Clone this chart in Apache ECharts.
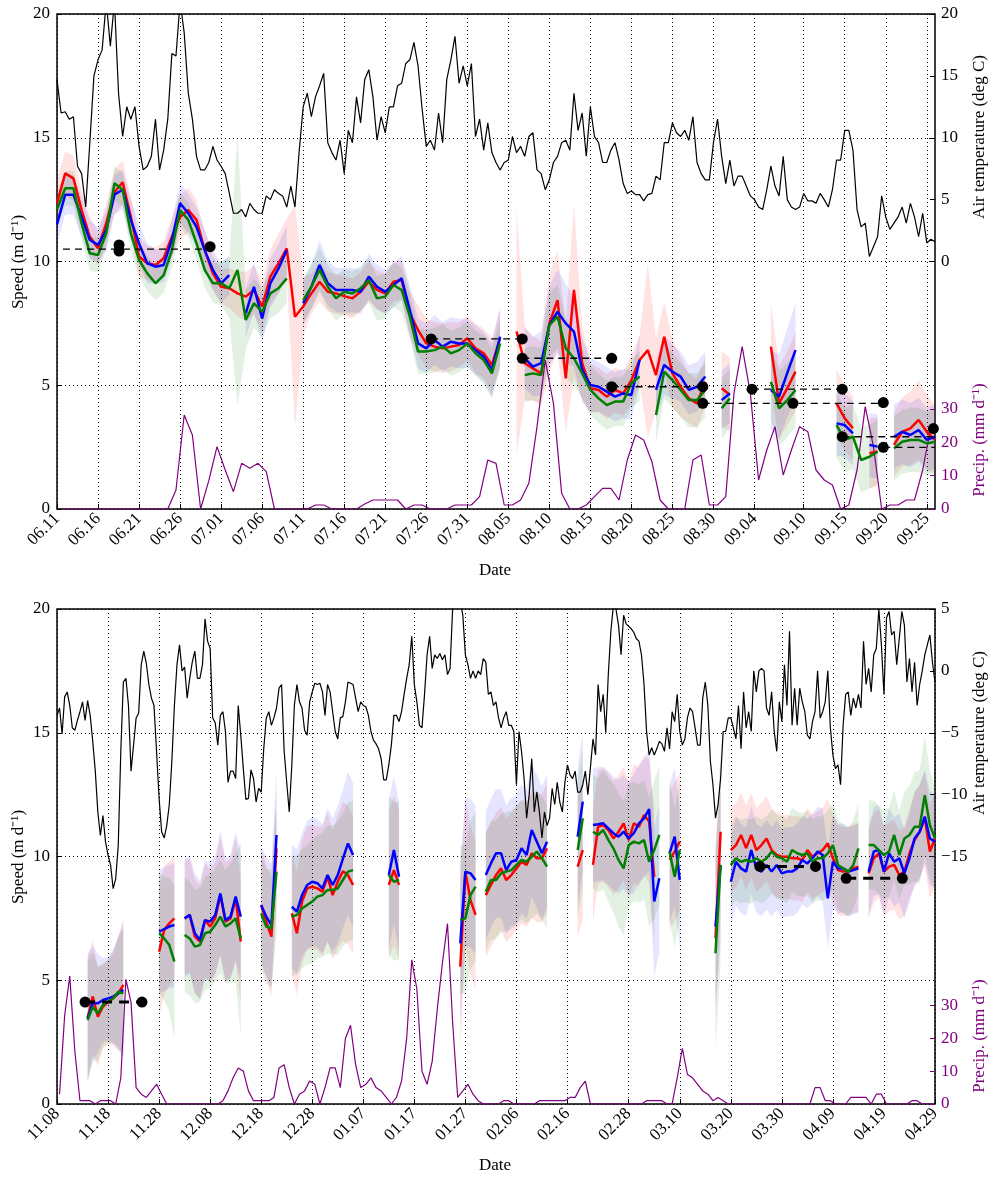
<!DOCTYPE html>
<html>
<head>
<meta charset="utf-8">
<title>Speed, air temperature and precipitation</title>
<script src="https://cdn.jsdelivr.net/npm/echarts@6/dist/echarts.min.js"></script>
<style>
  html, body { margin: 0; padding: 0; background: #fff; }
  #chart { width: 989px; height: 1179px; }
</style>
</head>
<body>
<div id="chart"></div>
<script>
const _ = null;

// ---------- summer panel: x = days since 06.11 ----------
const tickDaysTop = [0,5,10,15,20,25,30,35,40,45,50,55,60,65,70,75,80,85,91,96,101,106];
const tickLabelsTop = ['06.11','06.16','06.21','06.26','07.01','07.06','07.11','07.16','07.21','07.26','07.31',
  '08.05','08.10','08.15','08.20','08.25','08.30','09.04','09.10','09.15','09.20','09.25'];

// daily speeds (m/d), index = day
const redTop = [12.35,13.56,13.36,12.08,11.0,10.53,11.54,12.8,13.2,11.8,
  10.2,9.93,9.86,10.13,11.0,11.8,12.08,11.68,10.46,9.52,
  8.98,8.92,8.71,8.58,8.85,8.18,9.39,9.93,10.53,7.77,
  8.18,8.71,9.18,8.78,8.71,8.6,8.51,8.78,9.18,8.85,
  8.71,9.18,9.25,7.9,7.23,6.69,6.56,6.49,6.56,6.63,
  6.9,6.49,6.29,5.82,6.9,_,7.17,5.89,5.68,5.48,
  7.5,8.44,5.28,8.85,5.89,4.88,4.81,4.54,4.81,4.67,
  5.21,6.02,6.42,5.41,6.96,5.48,4.94,4.47,4.27,5.14,
  _,4.88,4.61,_,_,_,_,6.56,4.27,4.88,
  5.55,_,_,_,_,4.27,3.66,3.26,_,2.25,
  2.32,_,2.59,3.12,3.26,3.6,3.12,2.79];
const blueTop = [11.5,12.7,12.7,11.8,10.87,10.67,11.27,12.7,12.9,11.68,
  10.73,9.93,9.79,9.86,10.87,12.35,11.95,11.4,10.46,9.66,
  9.12,9.45,_,7.9,8.98,7.7,9.12,9.72,10.46,_,
  8.31,8.98,9.86,9.12,8.85,8.85,8.85,8.78,9.39,8.98,
  8.78,9.05,9.32,8.04,6.69,6.49,6.83,6.56,6.76,6.69,
  6.69,6.42,6.15,5.62,6.96,_,_,6.09,5.75,5.89,
  7.43,7.97,7.5,7.17,5.62,5.01,4.94,4.74,4.54,4.67,
  4.61,6.02,_,4.81,5.82,5.55,5.35,4.81,4.94,5.35,
  _,4.4,4.67,_,_,_,_,4.81,4.54,5.5,
  6.42,_,_,_,_,3.46,3.39,3.06,_,2.59,
  2.52,_,2.92,3.12,2.99,3.19,2.79,2.92];
const greenTop = [12.1,12.96,12.96,11.54,10.33,10.26,11.14,13.16,12.9,11.14,
  10.06,9.52,9.12,9.45,10.46,12.08,11.68,10.73,9.66,9.12,
  9.12,8.92,9.66,7.64,8.31,7.97,8.71,8.92,9.32,_,
  8.44,8.98,9.66,8.98,8.51,8.78,8.71,8.92,9.25,8.51,
  8.58,9.05,8.85,7.77,6.36,6.36,6.42,6.56,6.29,6.42,
  6.69,6.29,6.02,5.48,6.69,_,_,5.41,5.48,5.41,
  7.43,7.77,6.49,6.09,5.48,4.81,4.47,4.2,4.34,4.34,
  5.08,5.35,_,3.8,5.55,5.21,4.81,4.4,4.4,4.81,
  _,4.07,4.47,_,_,_,_,5.14,4.07,4.4,
  4.81,_,_,_,_,3.39,2.79,2.92,1.98,2.11,
  2.32,_,2.45,2.72,2.79,2.79,2.65,2.72];

// half-width of the shaded uncertainty bands
const hwRedTop = [0.9,0.9,0.9,0.8,0.8,0.7,0.8,0.9,0.9,0.8,
  0.8,0.7,0.7,0.7,0.8,0.9,0.9,0.8,0.8,0.7,
  0.7,0.8,0.9,1.0,1.0,1.0,1.1,1.2,1.2,4.5,
  1.2,0.8,0.8,0.8,0.8,0.8,0.8,0.8,0.8,0.8,
  0.8,0.8,0.8,0.9,1.0,1.0,1.0,1.0,1.0,0.9,
  0.9,1.0,1.0,1.1,1.2,_,5.0,1.5,1.3,1.3,
  2.0,2.0,2.2,3.5,1.5,1.0,0.9,0.9,0.9,0.9,
  1.0,1.0,3.5,1.5,1.4,1.4,1.2,1.0,1.0,1.0,
  _,1.5,1.5,_,_,_,_,1.8,1.5,1.5,
  1.6,_,_,_,_,1.4,1.3,1.3,_,1.4,
  1.4,_,1.3,1.4,1.5,1.6,1.5,1.4];
const hwBlueTop = [0.8,0.8,0.8,0.8,0.8,0.7,0.8,0.8,0.8,0.8,
  0.8,0.8,0.7,0.7,0.8,0.8,0.8,0.8,0.8,0.8,
  0.8,0.8,_,1.0,1.0,1.0,1.0,1.0,1.0,_,
  0.9,0.9,1.0,0.9,0.9,0.9,0.9,0.9,0.9,0.9,
  0.9,0.9,0.9,1.0,1.0,1.0,1.0,1.0,1.0,1.0,
  1.0,1.0,1.0,1.1,1.2,_,_,1.2,1.2,1.3,
  1.6,1.7,1.6,1.4,1.3,1.1,1.0,1.0,1.0,1.0,
  1.0,1.0,_,1.2,1.2,1.1,1.0,1.0,1.0,1.0,
  _,1.2,1.2,_,_,_,_,1.6,1.7,1.8,
  1.9,_,_,_,_,1.3,1.3,1.3,_,1.3,
  1.3,_,1.3,1.3,1.3,1.3,1.3,1.3];
const hwGreenTop = [0.7,0.7,0.7,0.7,0.7,0.7,0.7,0.7,0.7,0.7,
  0.7,0.7,0.7,0.7,0.7,0.7,0.7,0.7,0.7,0.8,
  0.9,1.2,5.5,1.2,1.0,1.0,1.0,1.0,1.0,_,
  0.9,0.9,0.9,0.9,0.9,0.9,0.9,0.9,0.9,0.9,
  0.9,0.9,0.9,0.9,0.9,0.9,0.9,0.9,0.9,0.9,
  0.9,0.9,1.0,1.0,1.0,_,_,1.1,1.1,1.1,
  1.3,1.3,1.2,1.1,1.0,1.0,1.0,1.0,1.0,1.0,
  1.0,1.0,_,1.1,1.1,1.1,1.1,1.1,1.1,1.1,
  _,1.2,1.2,_,_,_,_,1.5,1.5,1.5,
  1.5,_,_,_,_,1.3,1.3,1.3,1.3,1.3,
  1.3,_,1.3,1.3,1.3,1.3,1.3,1.3];

// air temperature (deg C), every half day from day 0
const tempTop = [14.7,12.0,12.1,11.5,11.7,7.7,7.1,4.4,9.6,15.0,
  16.3,17.1,21,17.4,21,13.6,10.1,12.5,11.5,12.5,
  9.3,7.4,7.7,8.5,11.5,7.4,9.0,11.5,16.8,16.6,
  21,18.5,13.6,11.5,8.5,7.4,7.4,8.0,9.3,8.2,
  7.7,7.1,5.5,3.9,3.9,4.2,3.6,4.7,4.2,3.9,
  3.9,5.3,5.0,5.8,5.5,5.3,4.4,6.1,4.4,8.8,
  12.5,13.6,11.7,13.3,14.2,15.2,9.6,8.8,8.2,9.8,
  7.1,10.6,9.6,13.3,11.2,14.7,15.5,13.3,9.8,11.7,
  10.4,12.5,12.5,14.2,14.4,16.0,16.3,17.7,15.8,12.3,
  9.3,9.8,9.0,12.0,9.6,14.7,16.3,18.2,14.4,15.8,
  14.2,16.0,10.1,11.5,9.0,11.2,8.8,8.0,7.4,8.0,
  8.2,10.1,8.8,9.3,8.5,10.1,10.4,7.4,7.1,5.8,
  6.6,8.0,8.5,9.6,9.8,9.0,13.6,10.6,12.0,8.5,
  12.5,10.1,9.6,8.0,8.0,9.0,9.6,8.2,6.3,5.5,
  5.7,5.4,5.4,4.9,5.4,5.5,6.9,6.6,9.6,9.6,
  11.2,10.4,10.1,10.6,9.8,11.7,8.0,7.1,6.6,6.6,
  9.6,11.5,8.5,6.3,8.2,6.1,6.9,6.9,6.1,5.3,
  5.0,4.4,4.2,5.8,7.7,6.1,5.3,8.5,5.0,4.4,
  4.2,4.4,5.5,4.9,4.9,4.7,5.5,5.0,4.4,5.8,
  8.2,8.2,10.6,10.6,9.0,4.2,2.8,3.1,0.4,1.2,
  2.0,5.3,3.6,2.6,3.1,3.6,4.4,3.1,4.7,3.6,
  2.0,3.9,1.5,1.8,1.6];

// daily precipitation (mm/d), plotted at mid-day
const precipTop = [0,0,0,0,0,0,0,0,0,0,
  0,0,0,0,5.7,28.2,22.2,0,8.5,18.7,
  11.7,5.2,13.7,12.2,13.7,11.2,0,0,0,0,
  0,1.2,1.2,0,0,0,0,1.5,2.7,2.7,
  2.7,2.7,0,1.2,1.2,0,0,0,1.2,1.2,
  1.2,3.7,14.7,13.7,1.2,1.2,2.7,7.7,24.7,44.7,
  31.7,4.7,0,0,1.2,3.7,6.2,6.2,2.7,14.7,
  22.2,20.7,14.2,2.7,0,0,0,14.7,16.2,1.2,
  1.2,3.7,34.7,48.7,34.7,8.7,17.7,24.7,10.2,17.7,
  24.7,23.2,11.7,8.7,7.2,0,1.2,11.7,30.7,18.7,
  0,1.2,1.2,2.7,2.7,11.7,24.7];

// survey means: [start day, end day, speed] and dot positions [day, speed]
const dashesTop = [[0.73,18.66,10.5],[45.6,56.7,6.87],[56.7,67.6,6.09],[67.6,78.7,4.94],
  [78.7,100.7,4.27],[84.7,95.7,4.84],[95.7,107,2.92],[100.7,107,2.49]];
const dotsTop = [[7.56,10.67],[7.56,10.42],[18.66,10.6],[45.6,6.87],[56.7,6.87],[56.7,6.09],
  [67.6,6.09],[67.6,4.94],[78.7,4.94],[78.7,4.27],[84.7,4.84],[89.7,4.27],[95.7,4.84],
  [95.7,2.92],[100.7,4.3],[100.7,2.49],[106.8,3.25]];

// ---------- winter panel: x = days since 11.08 ----------
const tickDaysBot = [0,10,20,30,40,50,60,70,80,90,100,112,122,132,142,152,162,172];
const tickLabelsBot = ['11.08','11.18','11.28','12.08','12.18','12.28','01.07','01.17','01.27',
  '02.06','02.16','02.28','03.10','03.20','03.30','04.09','04.19','04.29'];

const redBot = [_,_,_,_,_,_,3.46,4.34,3.53,3.93,
  4.13,4.27,4.47,4.81,_,_,_,_,_,_,
  6.15,7.03,7.3,7.5,_,7.5,7.64,6.76,6.56,7.43,
  7.17,7.5,8.44,7.37,7.5,8.31,6.56,_,_,_,
  8.04,7.37,6.76,10.33,_,_,7.7,6.9,8.18,8.71,
  8.78,8.71,8.58,9.18,8.44,8.98,9.4,9.25,8.85,_,
  _,_,_,_,_,8.85,9.45,8.85,_,_,
  _,_,_,_,_,_,_,_,_,5.55,
  9.39,8.24,7.64,_,8.44,8.85,9.25,9.52,9.05,9.25,
  9.52,9.79,9.66,10.13,9.93,9.93,10.33,_,_,_,
  _,_,9.59,10.26,_,9.66,11.2,11.27,11.07,10.73,
  11.0,11.34,10.66,11.34,11.2,11.68,11.41,9.18,_,_,
  9.86,10.2,10.6,_,_,_,_,_,_,6.69,
  11.0,_,10.26,10.46,10.87,10.34,10.87,10.26,10.46,10.73,
  10.26,10.06,9.99,9.99,9.93,9.93,9.86,10.26,9.99,10.13,
  10.26,10.53,9.93,9.45,9.39,9.39,9.52,9.59,_,9.32,
  9.93,10.13,9.39,9.59,9.66,9.25,9.39,10.13,10.67,11.0,
  11.54,10.2,10.73];
const blueBot = [_,_,_,_,_,_,3.46,4.07,4.07,4.2,
  4.27,4.34,4.47,4.61,_,_,_,_,_,_,
  6.96,7.07,7.17,7.23,_,7.5,7.64,6.9,6.63,7.43,
  7.37,7.64,8.51,7.43,7.57,8.38,7.57,_,_,_,
  8.04,7.57,7.23,10.87,_,_,7.97,7.77,8.44,8.85,
  8.98,8.92,8.71,9.25,8.85,9.25,9.9,10.53,10.06,_,
  _,_,_,_,_,9.25,10.26,9.18,_,_,
  _,_,_,_,_,_,_,_,_,6.49,
  9.39,9.32,9.05,_,9.25,9.72,10.13,10.13,9.45,9.79,
  9.86,10.33,10.06,11.07,10.6,10.13,10.6,_,_,_,
  _,_,10.8,12.22,_,11.27,11.3,11.34,11.14,10.94,
  10.8,11.0,10.73,10.94,11.34,11.54,11.92,8.18,9.12,_,
  10.13,10.8,9.05,_,_,_,_,_,_,7.17,
  9.66,_,8.98,9.79,9.52,9.39,10.26,9.52,9.39,9.66,
  9.39,9.66,9.32,9.39,9.39,9.52,9.86,9.72,9.93,10.2,
  10.06,8.31,9.79,9.52,9.52,9.39,9.45,9.52,_,9.39,
  10.2,10.26,9.39,10.13,9.79,9.93,9.32,9.93,10.73,11.0,
  11.61,10.73,10.6];
const greenBot = [_,_,_,_,_,_,3.39,3.93,3.66,4.0,
  4.13,4.27,4.54,4.47,_,_,_,_,_,_,
  6.9,6.69,6.42,5.75,_,6.83,6.69,6.36,6.42,6.9,
  6.96,7.23,7.57,7.17,7.3,7.5,6.69,_,_,_,
  7.7,7.17,7.1,9.39,_,_,7.57,7.64,7.9,8.04,
  8.18,8.38,8.44,8.65,8.65,8.71,9.05,9.39,9.45,_,
  _,_,_,_,_,9.25,8.98,9.05,_,_,
  _,_,_,_,_,_,_,_,_,7.43,
  7.5,8.44,8.78,_,8.58,9.05,9.05,9.32,9.39,9.45,
  9.66,9.86,9.79,9.99,10.2,9.93,9.59,_,_,_,
  _,_,10.26,11.54,_,11.0,10.87,11.07,10.67,10.33,
  9.86,9.52,10.46,10.6,10.53,10.67,9.79,10.26,10.87,_,
  10.2,9.18,10.26,_,_,_,_,_,_,6.09,
  9.66,_,9.66,9.93,9.79,9.86,9.79,9.93,9.79,9.93,
  10.2,9.99,9.93,9.79,10.26,10.13,10.06,10.13,9.79,9.93,
  9.93,10.13,10.46,9.66,9.52,9.39,9.66,10.33,_,10.46,
  10.46,10.26,10.06,10.2,10.87,10.06,10.73,10.87,11.2,11.2,
  12.48,11.27,10.73];

const hwRedBot = [_,_,_,_,_,_,2.5,2.3,2.0,1.7,
  1.7,1.9,2.3,2.7,_,_,_,_,_,_,
  2.6,2.6,2.5,2.5,_,2.3,2.3,2.3,2.3,2.3,
  2.3,2.3,2.4,2.4,2.4,2.5,2.5,_,_,_,
  2.3,2.3,2.4,2.5,_,_,2.5,2.5,2.5,2.5,
  2.5,2.5,2.6,2.6,2.6,2.7,2.8,2.8,2.8,_,
  _,_,_,_,_,3.0,3.0,3.0,_,_,
  _,_,_,_,_,_,_,_,_,3.5,
  3.0,3.0,3.0,_,2.5,2.5,2.5,2.5,2.5,2.5,
  2.5,2.5,2.5,2.6,2.6,2.6,2.6,_,_,_,
  _,_,2.8,2.8,_,2.3,2.3,2.3,2.3,2.3,
  2.3,2.3,2.3,2.4,2.4,2.4,2.5,2.8,_,_,
  2.8,2.8,2.8,_,_,_,_,_,_,3.3,
  3.3,_,1.7,1.7,1.7,1.7,1.7,1.7,1.7,1.7,
  1.7,1.7,1.7,1.7,1.7,1.7,1.7,1.7,1.7,1.7,
  1.7,1.8,1.8,1.8,1.8,1.8,1.8,1.8,_,1.8,
  1.8,1.8,1.8,1.8,1.8,1.8,1.8,1.8,1.9,1.9,
  1.9,1.9,1.9];
const hwBlueBot = [_,_,_,_,_,_,2.6,2.3,2.0,1.7,
  1.7,1.9,2.3,2.7,_,_,_,_,_,_,
  2.5,2.5,2.5,2.5,_,2.4,2.4,2.4,2.4,2.4,
  2.4,2.4,2.5,2.5,2.5,2.6,2.6,_,_,_,
  2.4,2.4,2.5,2.6,_,_,2.5,2.5,2.5,2.6,
  2.6,2.6,2.6,2.7,2.7,2.8,2.8,2.9,2.9,_,
  _,_,_,_,_,3.0,3.0,3.0,_,_,
  _,_,_,_,_,_,_,_,_,3.2,
  3.0,3.0,3.0,_,2.6,2.6,2.6,2.6,2.6,2.6,
  2.6,2.6,2.6,2.7,2.7,2.7,2.7,_,_,_,
  _,_,2.8,2.8,_,2.3,2.3,2.3,2.3,2.3,
  2.3,2.3,2.3,2.4,2.4,2.4,2.5,3.0,3.0,_,
  2.8,2.8,2.8,_,_,_,_,_,_,3.2,
  3.2,_,1.8,1.8,1.8,1.8,1.8,1.8,1.8,1.8,
  1.8,1.8,1.8,1.8,1.8,1.8,1.8,1.8,1.8,1.8,
  1.9,2.0,1.9,1.8,1.8,1.8,1.8,1.8,_,1.8,
  1.8,1.8,1.8,1.8,1.8,1.8,1.8,1.8,1.9,1.9,
  1.9,1.9,1.9];
const hwGreenBot = [_,_,_,_,_,_,2.4,2.2,1.9,1.7,
  1.7,1.8,2.2,2.6,_,_,_,_,_,_,
  2.4,2.5,2.7,3.1,_,2.3,2.3,2.3,2.3,2.3,
  2.3,2.3,2.3,2.3,2.4,2.6,3.9,_,_,_,
  2.3,2.3,2.4,2.5,_,_,2.4,2.4,2.4,2.4,
  2.5,2.5,2.5,2.6,2.6,2.7,2.7,2.8,2.8,_,
  _,_,_,_,_,3.2,3.2,3.2,_,_,
  _,_,_,_,_,_,_,_,_,3.0,
  3.0,3.0,3.0,_,2.4,2.4,2.4,2.4,2.4,2.4,
  2.4,2.4,2.5,2.5,2.5,2.5,2.5,_,_,_,
  _,_,2.8,2.8,_,2.3,2.3,2.4,2.5,2.6,
  2.7,2.7,2.5,2.4,2.4,2.4,2.6,2.8,2.8,_,
  2.8,2.8,2.8,_,_,_,_,_,_,4.0,
  4.0,_,1.7,1.7,1.7,1.7,1.7,1.7,1.7,1.7,
  1.7,1.7,1.7,1.7,1.7,1.7,1.7,1.7,1.7,1.7,
  1.7,1.7,1.8,1.8,1.8,1.8,1.8,1.8,_,1.8,
  1.8,1.8,1.8,1.8,1.8,1.8,1.9,2.0,2.2,2.3,
  2.4,2.2,2.0];

const tempBot = [-3.6,-3.0,-5.1,-2.1,-1.7,-2.8,-4.6,-4.8,-4.0,-3.3,
  -2.5,-4.0,-2.4,-3.6,-5.7,-8.1,-11.4,-13.3,-11.7,-13.8,
  -14.9,-15.7,-17.6,-16.8,-14.1,-6.5,-0.9,-0.6,-2.8,-8.1,
  -6.0,-3.8,-3.4,0.5,1.6,0.6,-1.1,-2.2,-2.8,-6.5,
  -10.3,-13.0,-13.5,-12.5,-10.8,-7.3,-2.8,0.5,2.1,0.0,
  0.3,-2.2,-0.6,0.7,1.6,-0.6,-0.6,0.5,4.2,2.4,
  1.8,-3.8,-4.2,-6.0,-3.6,-3.3,-4.9,-9.0,-8.1,-8.1,
  -8.7,-2.8,-5.2,-7.9,-10.4,-10.3,-8.0,-8.7,-10.6,-9.5,
  -9.8,-6.3,-3.8,-3.3,-4.4,-3.8,-3.0,-1.4,-1.1,-6.5,
  -9.0,-11.4,-7.6,-2.8,-1.1,-2.5,-3.0,-4.8,-5.2,-2.5,
  -1.7,-1.0,-1.1,-1.0,-1.7,-3.6,-1.1,-1.7,-3.3,-4.9,
  -5.5,-3.8,-3.7,-2.5,-0.9,-1.0,-1.1,-2.2,-3.3,-2.5,
  -2.8,-2.9,-3.6,-4.9,-5.6,-5.9,-6.3,-7.1,-8.8,-8.8,
  -7.6,-6.0,-3.6,-3.6,-4.1,-3.3,-1.9,-0.6,0.5,2.8,
  -1.1,-2.5,-4.4,-4.6,-1.9,1.3,2.8,0.2,1.3,1.0,
  1.4,0.9,1.3,-0.3,0.2,5.0,5.6,5.6,5.6,4.5,
  1.3,0.5,-0.6,0.0,-0.6,0.0,-0.3,1.0,0.7,-1.9,
  -1.7,-2.8,-2.5,-3.8,-4.6,-3.8,-3.3,-4.4,-4.4,-4.9,
  -9.2,-4.9,-6.5,-8.7,-11.9,-10.0,-7.1,-11.4,-9.8,-11.4,
  -13.5,-11.4,-12.5,-11.9,-9.5,-10.8,-9.0,-10.6,-11.4,-9.0,
  -7.6,-8.4,-8.7,-8.1,-9.8,-9.8,-9.2,-8.1,-10.0,-7.8,
  -5.5,-6.8,-1.1,-3.3,-1.9,-5.0,-0.3,3.2,5.3,5.0,
  3.7,1.3,4.5,3.8,3.6,3.4,3.1,2.6,2.4,1.3,
  -1.1,-4.9,-6.8,-6.2,-6.8,-6.3,-5.7,-5.9,-6.5,-4.6,
  -6.3,-3.3,-4.1,-1.9,-4.9,-6.0,-5.5,-3.8,-3.0,-3.3,
  -4.6,-6.0,-6.0,-2.2,-0.9,-2.8,-7.3,-9.2,-11.9,-10.8,
  -8.7,-4.9,-4.9,-3.8,-3.8,-4.6,-5.5,-2.8,-6.3,-1.7,
  -4.6,-3.3,-4.9,0.0,-1.7,0.0,0.2,0.0,-3.0,-3.6,
  -1.7,-4.9,-6.5,-2.5,-4.1,0.5,-2.8,3.2,-4.4,-1.4,
  -4.4,-1.4,-2.5,-3.3,-5.2,-5.5,-4.1,-3.3,0.0,-3.8,
  -3.3,-2.5,0.0,-4.6,-6.8,-7.9,-7.6,-9.2,-4.4,-1.9,
  -1.7,-3.6,-2.2,-3.0,-1.9,-3.0,2.4,-1.1,0.2,-1.7,
  1.3,1.8,5.0,2.1,-1.9,4.3,4.8,2.9,3.2,0.5,
  2.6,4.8,3.7,-0.9,1.0,-1.7,0.7,-2.8,-1.1,0.0,
  1.3,2.1,2.9,0.7,-0.9];

const precipBot = [3,27,39,16,1,1,1,0,1,1,
  1,0,8,38,31,5,3,2,4,6,
  3,0,0,0,0,0,0,0,0,0,
  0,0,1,4,8,11,10,4,1,1,
  1,1,2,11,12,5,0,3,4,7,
  6,0,5,11,11,5,20,24,12,5,
  6,8,5,4,2,0,2,7,20,44,
  35,10,6,13,29,43,55,25,2,4,
  6,3,1,0,0,0,0,1,1,0,
  0,0,0,0,1,1,1,1,1,1,
  2,2,5,7,0,0,0,0,0,0,
  0,0,0,0,0,1,1,1,1,0,
  0,8,17,9,8,6,4,3,1,2,
  1,0,0,0,0,0,0,0,0,0,
  0,0,0,0,0,0,0,0,5,5,
  1,1,0,0,0,2,2,2,2,0,
  3,3,0,0,0,0,0,1,1,0,
  0,0];

const dashesBot = [[5.5,16.65,4.12],[137.7,148.6,9.6],[154.6,165.6,9.12]];
const dotsBot = [[5.5,4.12],[16.65,4.12],[137.7,9.6],[148.6,9.6],[154.6,9.12],[165.6,9.12]];

// ---------- styling ----------
const serif = 'Liberation Serif';
const purple = '#800080';
const dotted = { color: '#000', width: 1, type: [1, 3] };

function bandSeries(xi, yi, vals, hws, color) {
  return {
    type: 'custom', xAxisIndex: xi, yAxisIndex: yi, clip: true, silent: true, z: 1,
    data: vals.map((v, i) => [i, v == null ? 0 : v]),
    renderItem: function (params, api) {
      const i = params.dataIndex;
      if (vals[i] == null || (i > 0 && vals[i - 1] != null)) return null;
      let j = i;
      while (j + 1 < vals.length && vals[j + 1] != null) j++;
      if (j === i) return null;
      const up = [], lo = [];
      for (let k = i; k <= j; k++) {
        up.push(api.coord([k, vals[k] + hws[k]]));
        lo.push(api.coord([k, vals[k] - hws[k]]));
      }
      return { type: 'polygon', shape: { points: up.concat(lo.reverse()) }, style: { fill: color } };
    }
  };
}

function speedLine(xi, yi, vals, color) {
  return {
    type: 'line', xAxisIndex: xi, yAxisIndex: yi, symbol: 'none', z: 4,
    data: vals.map((v, i) => [i, v == null ? '-' : v]),
    lineStyle: { color: color, width: 2.5 }, itemStyle: { color: color }
  };
}

function panel(p, temp, precip, reds, blues, greens, hws, dashes, dots, dashStyle, dotSize) {
  const yi = p * 3;
  const s = [
    bandSeries(p, yi, reds, hws[0], 'rgba(255,0,0,0.11)'),
    bandSeries(p, yi, blues, hws[1], 'rgba(0,0,255,0.10)'),
    bandSeries(p, yi, greens, hws[2], 'rgba(0,128,0,0.11)'),
    { type: 'line', xAxisIndex: p, yAxisIndex: yi + 2, symbol: 'none', z: 3,
      data: precip.map((v, i) => [i + 0.5, v]), lineStyle: { color: purple, width: 1.2 } },
    { type: 'line', xAxisIndex: p, yAxisIndex: yi + 1, symbol: 'none', z: 3,
      data: temp.map((v, k) => [k * 0.5, v]), lineStyle: { color: '#000', width: 1.2 } },
    speedLine(p, yi, reds, '#ff0000'),
    speedLine(p, yi, blues, '#0000ff'),
    speedLine(p, yi, greens, '#008000')
  ];
  dashes.forEach(d => s.push({
    type: 'line', xAxisIndex: p, yAxisIndex: yi, symbol: 'none', z: 5,
    data: [[d[0], d[2]], [d[1], d[2]]], lineStyle: dashStyle
  }));
  s.push({ type: 'scatter', xAxisIndex: p, yAxisIndex: yi, z: 6, symbolSize: dotSize,
    data: dots, itemStyle: { color: '#000', opacity: 1 } });
  return s;
}

function xAxisFor(gi, max, ticks, labels) {
  return {
    type: 'value', gridIndex: gi, min: 0, max: max,
    axisLine: { show: false },
    axisTick: { show: true, inside: true, length: 5, customValues: ticks, lineStyle: { color: '#000' } },
    axisLabel: { customValues: ticks, rotate: 45, margin: 7, fontFamily: serif, fontSize: 17, color: '#000',
      formatter: v => labels[ticks.indexOf(v)] },
    splitLine: { show: true, lineStyle: dotted }
  };
}

function yAxesFor(gi, tmin, tmax, tticks, pmax) {
  return [
    { type: 'value', gridIndex: gi, position: 'left', min: 0, max: 20, interval: 5,
      axisLine: { show: false },
      axisTick: { show: true, inside: true, length: 5, lineStyle: { color: '#000' } },
      axisLabel: { fontFamily: serif, fontSize: 17, color: '#000', margin: 7 },
      splitLine: { show: true, lineStyle: dotted } },
    { type: 'value', gridIndex: gi, position: 'right', min: tmin, max: tmax,
      axisLine: { show: false },
      axisTick: { show: true, inside: true, length: 5, customValues: tticks, lineStyle: { color: '#000' } },
      axisLabel: { customValues: tticks, fontFamily: serif, fontSize: 17, color: '#000', margin: 6,
        formatter: v => String(v).replace('-', '\u2212') },
      splitLine: { show: false } },
    { type: 'value', gridIndex: gi, position: 'right', min: 0, max: pmax,
      axisLine: { show: false },
      axisTick: { show: true, inside: true, length: 5, customValues: [0, 10, 20, 30], lineStyle: { color: purple } },
      axisLabel: { customValues: [0, 10, 20, 30], fontFamily: serif, fontSize: 17, color: purple, margin: 6 },
      splitLine: { show: false } }
  ];
}

function label(text, x, y, rot, color) {
  return { type: 'text', x: x, y: y, rotation: rot, z: 10,
    style: { text: text, fontFamily: serif, fontSize: 17, fill: color || '#000', align: 'center', verticalAlign: 'middle' } };
}

const chart = echarts.init(document.getElementById('chart'), null, { renderer: 'canvas' });
const option = {
  animation: false,
  backgroundColor: '#fff',
  grid: [
    { left: 57, top: 14, width: 878, height: 495, show: true, borderColor: '#000', borderWidth: 1.5, backgroundColor: 'transparent' },
    { left: 57, top: 609, width: 878, height: 495, show: true, borderColor: '#000', borderWidth: 1.5, backgroundColor: 'transparent' }
  ],
  xAxis: [
    xAxisFor(0, 107, tickDaysTop, tickLabelsTop),
    xAxisFor(1, 172, tickDaysBot, tickLabelsBot)
  ],
  yAxis: yAxesFor(0, -20, 20, [0, 5, 10, 15, 20], 148.5)
    .concat(yAxesFor(1, -35, 5, [-15, -10, -5, 0, 5], 151)),
  series: panel(0, tempTop, precipTop, redTop, blueTop, greenTop, [hwRedTop, hwBlueTop, hwGreenTop],
      dashesTop, dotsTop, { color: '#000', width: 1.3, type: [7, 5] }, 11)
    .concat(panel(1, tempBot, precipBot, redBot, blueBot, greenBot, [hwRedBot, hwBlueBot, hwGreenBot],
      dashesBot, dotsBot, { color: '#000', width: 3, type: [10, 7] }, 11)),
  graphic: [
    label('Speed (m d\u207B\u00B9)', 19, 262, Math.PI / 2),
    label('Date', 495, 571, 0),
    label('Air temperature (deg C)', 980, 137, Math.PI / 2),
    label('Precip. (mm d\u207B\u00B9)', 980, 440, Math.PI / 2, purple),
    label('Speed (m d\u207B\u00B9)', 19, 857, Math.PI / 2),
    label('Date', 495, 1166, 0),
    label('Air temperature (deg C)', 980, 733, Math.PI / 2),
    label('Precip. (mm d\u207B\u00B9)', 980, 1036, Math.PI / 2, purple)
  ]
};
chart.setOption(option);
</script>
</body>
</html>
